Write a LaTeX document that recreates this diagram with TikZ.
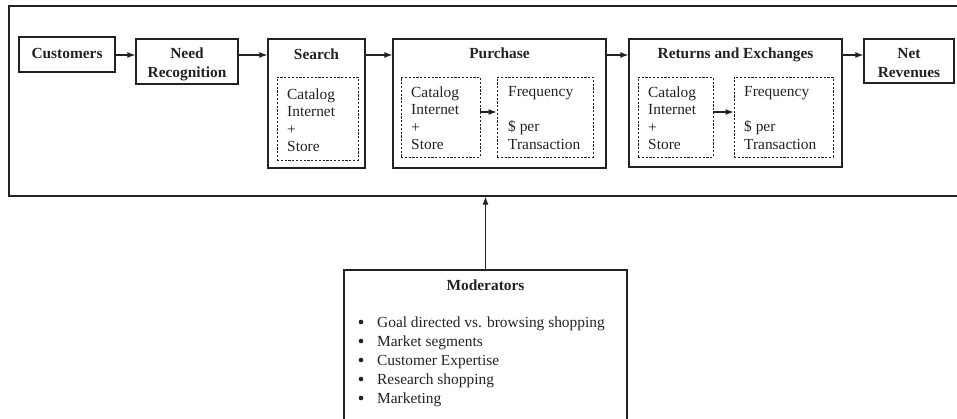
\documentclass[tikz,border=0pt]{standalone}
\usepackage{fontspec}
\setmainfont{Liberation Serif}
\usetikzlibrary{arrows.meta}
\definecolor{ink}{HTML}{222222}
\begin{document}
\begin{tikzpicture}[x=1pt,y=-1pt,
  box/.style={draw=ink, line width=1.3pt, inner sep=0pt},
  dbox/.style={draw=ink, dash pattern=on 2.2pt off 1.6pt, line width=0.9pt, inner sep=0pt},
  ttl/.style={font=\fontsize{15.4}{19}\selectfont\bfseries, align=center, inner sep=0pt, text=ink},
  txt/.style={font=\fontsize{15.4}{17.4}\selectfont, align=left, inner sep=0pt, anchor=north west, text=ink},
  item/.style={font=\fontsize{15.4}{19}\selectfont, inner sep=0pt, anchor=base west, text=ink},
  dot/.style={circle, fill=ink, inner sep=0pt, minimum size=4.6pt},
  arr/.style={-{Latex[length=8pt,width=6pt]}, line width=1.1pt, draw=ink}]
\useasboundingbox (0,0) rectangle (957,418);
\clip (0,0) rectangle (957,418);

% outer frame
\node[box, minimum width=961pt, minimum height=190pt] (frame) at (489.5,101) {};

% top row
\node[box, minimum width=96pt, minimum height=35pt] (cust) at (67,54.5) {};
\node[ttl] (custT) at (67,53) {Customers};
\node[box, minimum width=102pt, minimum height=45pt] (need) at (187,61.5) {};
\node[ttl] (needT) at (187,64) {Need\\Recognition};
\node[box, minimum width=97pt, minimum height=129pt] (search) at (316.5,103.5) {};
\node[box, minimum width=213pt, minimum height=129pt] (purch) at (499.5,103.5) {};
\node[box, minimum width=213pt, minimum height=128pt] (ret) at (735.5,103) {};
\node[box, minimum width=90pt, minimum height=44pt] (net) at (909,61) {};
\node[ttl] (netT) at (909,63.5) {Net\\Revenues};

\node[ttl, anchor=base] (searchT) at (316.5,59) {Search};
\node[ttl, anchor=base] (purchT) at (499.5,58) {Purchase};
\node[ttl, anchor=base] (retT) at (735.5,58) {Returns and Exchanges};

% dashed inner boxes
\node[dbox, minimum width=81pt, minimum height=83pt] (sD) at (317.5,118.5) {};
\node[dbox, minimum width=79pt, minimum height=80pt] (pL) at (440.5,117) {};
\node[dbox, minimum width=96pt, minimum height=80pt] (pR) at (545,117) {};
\node[dbox, minimum width=75pt, minimum height=80pt] (rL) at (675.5,117) {};
\node[dbox, minimum width=99pt, minimum height=80pt] (rR) at (783.5,117) {};

\node[txt] (sDt) at (287,88.6) {Catalog\\Internet\\+\\Store};
\node[txt] (pLt) at (411,86.6) {Catalog\\Internet\\+\\Store};
\node[txt] (pRt) at (508,86.6) {Frequency\\\mbox{}\\\$ per\\Transaction};
\node[txt] (rLt) at (648,86.6) {Catalog\\Internet\\+\\Store};
\node[txt] (rRt) at (744,86.6) {Frequency\\\mbox{}\\\$ per\\Transaction};

% moderators
\node[box, minimum width=283pt, minimum height=170pt] (mod) at (485.5,355) {};
\node[ttl, anchor=base] (modT) at (485.5,290) {Moderators};
\foreach \t [count=\i] in {Goal directed vs. browsing shopping, Market segments, Customer Expertise, Research shopping, Marketing}{
  \node[dot] (b\i) at (361,{322+19*(\i-1)}) {};
  \node[item] (m\i) at (377,{327+19*(\i-1)}) {\t};
}

% connectors
\coordinate (row) at (0,55);
\draw[arr] (cust.east |- row) -- (need.west |- row);
\draw[arr] (need.east |- row) -- (search.west |- row);
\draw[arr] (search.east |- row) -- (purch.west |- row);
\draw[arr] (purch.east |- row) -- (ret.west |- row);
\draw[arr] (ret.east |- row) -- (net.west |- row);
\coordinate (inrow) at (0,112);
\draw[arr] (pL.east |- inrow) -- (pR.west |- inrow);
\draw[arr] (rL.east |- inrow) -- (rR.west |- inrow);
\draw[arr] (mod.north) -- (mod.north |- frame.south);
\end{tikzpicture}
\end{document}
